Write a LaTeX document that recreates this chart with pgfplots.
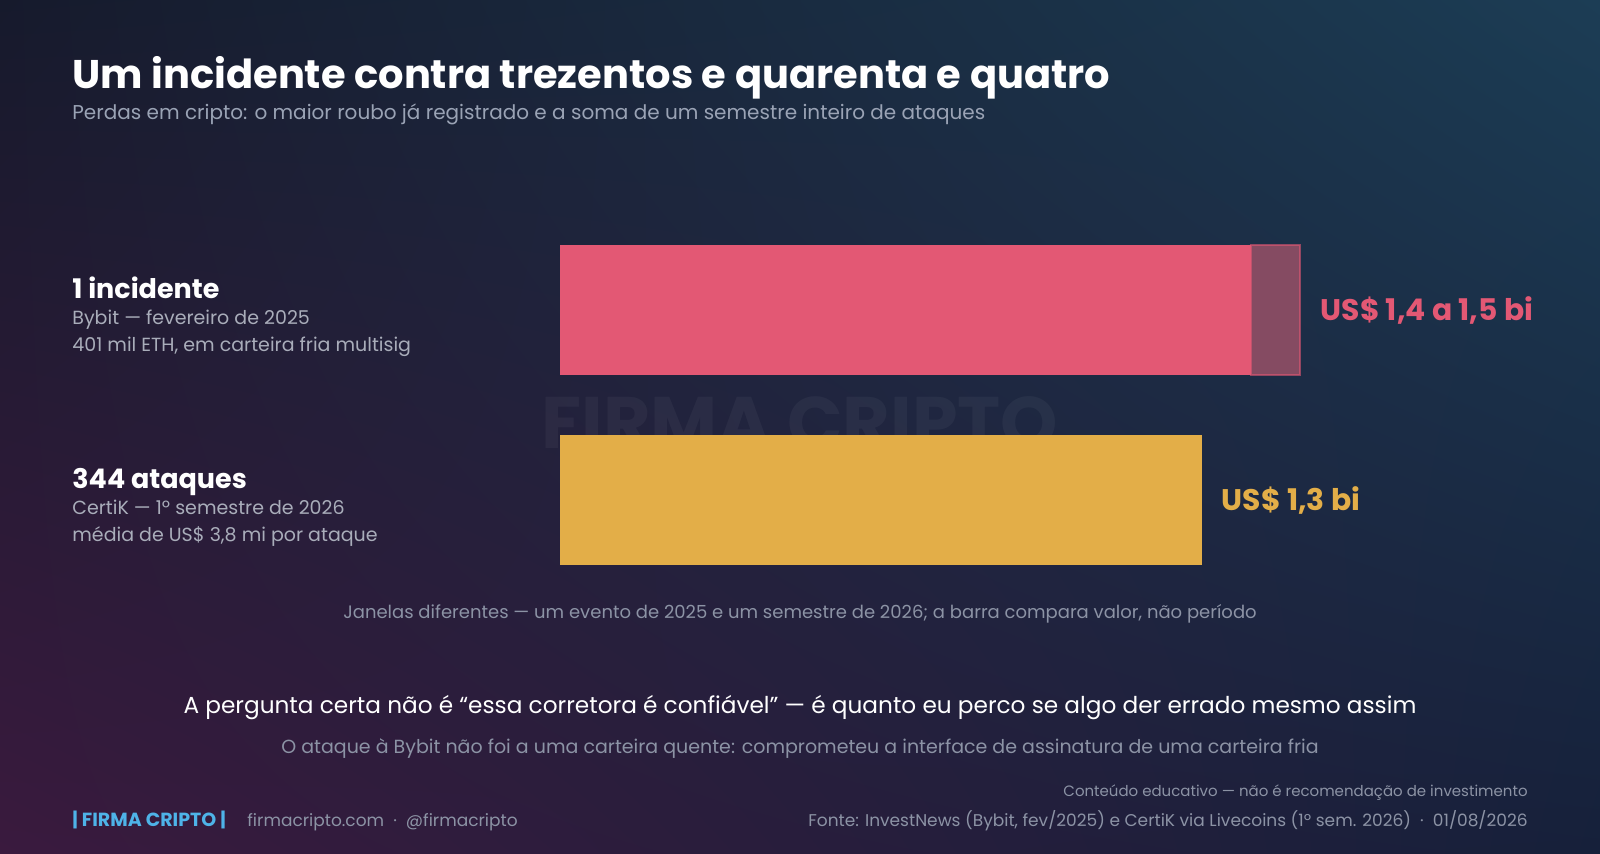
\documentclass[border=0pt]{standalone}
\usepackage{pgfplots}
\pgfplotsset{compat=1.18}
\usetikzlibrary{shadings}
\usepackage{fontspec}
\setmainfont{Poppins}
\definecolor{bgTL}{HTML}{161A2C}
\definecolor{bgTR}{HTML}{1C3D55}
\definecolor{bgBL}{HTML}{3A1A3E}
\definecolor{bgBR}{HTML}{16203A}
\definecolor{pinkbar}{HTML}{E35874}
\definecolor{rangebar}{HTML}{854B62}
\definecolor{yellowbar}{HTML}{E3AE48}
\definecolor{subgrey}{HTML}{9AA3B5}
\definecolor{labgrey}{HTML}{A9ADBA}
\definecolor{notegrey}{HTML}{8C93A5}
\definecolor{brandblue}{HTML}{4EB3E8}
\begin{document}
\begin{tikzpicture}[x=0.5pt,y=-0.5pt]
\shade[upper left=bgTL, upper right=bgTR, lower left=bgBL, lower right=bgBR] (0,0) rectangle (1600,853);
\coordinate (axorig) at (560,595);
% title
\node[anchor=base west, inner sep=0, text=white, font=\bfseries\fontsize{20}{24}\selectfont] at (72,88) {Um incidente contra trezentos e quarenta e quatro};
\node[anchor=base west, inner sep=0, text=subgrey, font=\fontsize{10}{12}\selectfont] at (72,119) {Perdas em cripto: o maior roubo já registrado e a soma de um semestre inteiro de ataques};
% left labels
\node[anchor=base west, inner sep=0, text=white, font=\bfseries\fontsize{13.5}{16}\selectfont] at (72,298) {1 incidente};
\node[anchor=base west, inner sep=0, text=labgrey, font=\fontsize{9.5}{11}\selectfont] at (72,324) {Bybit — fevereiro de 2025};
\node[anchor=base west, inner sep=0, text=labgrey, font=\fontsize{9.5}{11}\selectfont] at (72,351) {401 mil ETH, em carteira fria multisig};
\node[anchor=base west, inner sep=0, text=white, font=\bfseries\fontsize{13.5}{16}\selectfont] at (72,488) {344 ataques};
\node[anchor=base west, inner sep=0, text=labgrey, font=\fontsize{9.5}{11}\selectfont] at (72,514) {CertiK — 1º semestre de 2026};
\node[anchor=base west, inner sep=0, text=labgrey, font=\fontsize{9.5}{11}\selectfont] at (72,541) {média de US\$ 3,8 mi por ataque};
% watermark
\node[text=white, opacity=0.045, font=\bfseries\fontsize{36.5}{40}\selectfont] at (800,423) {FIRMA CRIPTO};
% chart
\begin{axis}[at={(axorig)}, anchor=south west, scale only axis,
  width=493.5pt, height=190pt, xmin=0, xmax=2, ymin=-0.5, ymax=1.5,
  hide axis, clip=false]
\addplot[xbar, bar width=65pt, bar shift=0pt, fill=pinkbar, draw=none] coordinates {(1.4,1)};
\addplot[xbar, bar width=65pt, bar shift=0pt, fill=yellowbar, draw=none] coordinates {(1.3,0)};
\addplot[fill=rangebar, draw=pinkbar, draw opacity=0.6, line width=1pt] coordinates {(1.4,0.658) (1.5,0.658) (1.5,1.342) (1.4,1.342)} -- cycle;
\node[anchor=west, inner sep=0, text=pinkbar, font=\bfseries\fontsize{14.9}{18}\selectfont, xshift=10pt] at (axis cs:1.5,1) {US\$ 1,4 a 1,5 bi};
\node[anchor=west, inner sep=0, text=yellowbar, font=\bfseries\fontsize{14.9}{18}\selectfont, xshift=10pt] at (axis cs:1.3,0) {US\$ 1,3 bi};
\end{axis}
% notes
\node[anchor=base, inner sep=0, text=notegrey, font=\fontsize{9}{11}\selectfont] at (800,618) {Janelas diferentes — um evento de 2025 e um semestre de 2026; a barra compara valor, não período};
\node[anchor=base, inner sep=0, text=white, font=\fontsize{11.6}{14}\selectfont] at (800,713) {A pergunta certa não é “essa corretora é confiável” — é quanto eu perco se algo der errado mesmo assim};
\node[anchor=base, inner sep=0, text=notegrey, font=\fontsize{9.5}{11}\selectfont] at (800,753) {O ataque à Bybit não foi a uma carteira quente: comprometeu a interface de assinatura de uma carteira fria};
% footer
\node[anchor=base east, inner sep=0, text=notegrey, font=\fontsize{7.5}{9}\selectfont] at (1528,796) {Conteúdo educativo — não é recomendação de investimento};
\node[anchor=base east, inner sep=0, text=notegrey, font=\fontsize{8.5}{10}\selectfont] at (1528,826) {Fonte: InvestNews (Bybit, fev/2025) e CertiK via Livecoins (1º sem. 2026) \ · \ 01/08/2026};
\node[anchor=base west, inner sep=0, text=brandblue, font=\bfseries\fontsize{9.5}{11}\selectfont] at (72,826) {| FIRMA CRIPTO |};
\node[anchor=base west, inner sep=0, text=notegrey, font=\fontsize{8.5}{10}\selectfont] at (247,826) {firmacripto.com \ · \ @firmacripto};
\end{tikzpicture}
\end{document}
